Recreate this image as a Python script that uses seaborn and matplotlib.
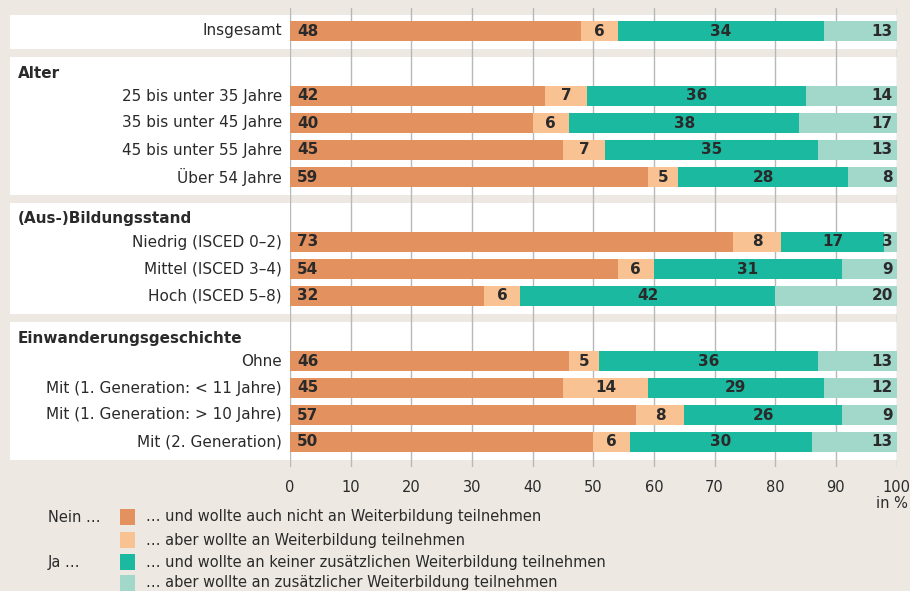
import numpy as np
import pandas as pd
import matplotlib
matplotlib.use("Agg")
import matplotlib.pyplot as plt
import seaborn as sns
from matplotlib.patches import Rectangle
from matplotlib.transforms import blended_transform_factory

# ---------------- data ----------------
group_titles = [None, "Alter", "(Aus-)Bildungsstand", "Einwanderungsgeschichte"]
group_items = [
    ["Insgesamt"],
    ["25 bis unter 35 Jahre", "35 bis unter 45 Jahre", "45 bis unter 55 Jahre", "Über 54 Jahre"],
    ["Niedrig (ISCED 0–2)", "Mittel (ISCED 3–4)", "Hoch (ISCED 5–8)"],
    ["Ohne", "Mit (1. Generation: < 11 Jahre)", "Mit (1. Generation: > 10 Jahre)", "Mit (2. Generation)"],
]
nein_nicht = [48, 42, 40, 45, 59, 73, 54, 32, 46, 45, 57, 50]
nein_aber = [6, 7, 6, 7, 5, 8, 6, 6, 5, 14, 8, 6]
ja_keine = [34, 36, 38, 35, 28, 17, 31, 42, 36, 29, 26, 30]
ja_aber = [13, 14, 17, 13, 8, 3, 9, 20, 13, 12, 9, 13]
total_share = 100

series_labels = [
    "… und wollte auch nicht an Weiterbildung teilnehmen",
    "… aber wollte an Weiterbildung teilnehmen",
    "… und wollte an keiner zusätzlichen Weiterbildung teilnehmen",
    "… aber wollte an zusätzlicher Weiterbildung teilnehmen",
]
legend_groups = ["Nein …", None, "Ja …", None]
x_ticks = [0, 10, 20, 30, 40, 50, 60, 70, 80, 90, 100]

# ---------------- style ----------------
W, H = 910, 591
BG = "#ede9e2"
COLS = ["#e3915f", "#f9c292", "#1ab9a0", "#a2d8c9"]
TXT = "#2a2a2a"

sns.set_theme(style="white")
plt.rcParams["font.family"] = ["DejaVu Sans"]

fig = plt.figure(figsize=(W / 100, H / 100), dpi=100, facecolor=BG)

ax_top, ax_bot = 8, 467          # pixel extents of the plotting axes
x0_px, x100_px = 290, 896.5
ax = fig.add_axes([x0_px / W, 1 - ax_bot / H, (x100_px - x0_px) / W, (ax_bot - ax_top) / H])
ax.patch.set_visible(False)

# ---------------- layout (pixel-like y units) ----------------
step, gap, pad_nohead, head_off, head_to_bar, pad_bot = 27, 8.5, 16, 16, 23, 17.5
y = 15.0
ypos, panels, headers = [], [], []
for title, items in zip(group_titles, group_items):
    top = y
    if title is None:
        yb = top + pad_nohead
    else:
        headers.append((title, top + head_off))
        yb = top + head_off + head_to_bar
    for i, _ in enumerate(items):
        ypos.append(yb + i * step)
    bottom = ypos[-1] + pad_bot
    panels.append((top, bottom))
    y = bottom + gap
labels = [it for items in group_items for it in items]
ypos = np.array(ypos)

trans_fx = blended_transform_factory(fig.transFigure, ax.transData)
for top, bottom in panels:
    r = Rectangle((10 / W, top), (897 - 10) / W, bottom - top, transform=trans_fx,
                  facecolor="white", edgecolor="none", zorder=-1)
    fig.add_artist(r)

# ---------------- bars (stacked via cumulative layers) ----------------
c1 = np.array(nein_nicht, float)
c2 = c1 + np.array(nein_aber)
c3 = c2 + np.array(ja_keine)
c4 = np.full(len(c1), float(total_share))
df = pd.DataFrame({"y": ypos, "c1": c1, "c2": c2, "c3": c3, "c4": c4})
for col, color in zip(["c4", "c3", "c2", "c1"], COLS[::-1]):
    sns.barplot(data=df, x=col, y="y", orient="h", native_scale=True, width=20 / step,
                color=color, saturation=1, errorbar=None, linewidth=0, ax=ax)

ax.set_xlim(0, 100)
ax.set_ylim(ax_bot, ax_top)
ax.set_xticks(x_ticks)
ax.set_xticklabels([str(t) for t in x_ticks], fontsize=10.5, color=TXT)
ax.set_yticks([])
ax.set_xlabel("")
ax.set_ylabel("")
for s in ax.spines.values():
    s.set_visible(False)
ax.grid(axis="x", color="#b8b8b8", linewidth=1)
ax.grid(axis="y", visible=False)
ax.set_axisbelow(True)
ax.tick_params(axis="x", length=0, pad=9)

# value labels
fs = 11
for i, yy in enumerate(ypos):
    ax.text(1.2, yy, str(nein_nicht[i]), ha="left", va="center", fontsize=fs,
            fontweight="bold", color=TXT)
    ax.text((c1[i] + c2[i]) / 2, yy, str(nein_aber[i]), ha="center", va="center",
            fontsize=fs, fontweight="bold", color=TXT)
    ax.text((c2[i] + c3[i]) / 2, yy, str(ja_keine[i]), ha="center", va="center",
            fontsize=fs, fontweight="bold", color=TXT)
    ax.text(99.4, yy, str(ja_aber[i]), ha="right", va="center", fontsize=fs,
            fontweight="bold", color=TXT)

# category labels and group headers
for lab, yy in zip(labels, ypos):
    ax.text(282 / W, yy, lab, transform=trans_fx, ha="right", va="center",
            fontsize=11, color=TXT)
for title, yy in headers:
    ax.text(18 / W, yy, title, transform=trans_fx, ha="left", va="center",
            fontsize=11, fontweight="bold", color=TXT)

# unit
fig.text(908 / W, 1 - 503 / H, "in %", ha="right", va="center", fontsize=10.5, color=TXT)

# legend
leg_y = [517, 540, 562, 583]
for grp, lab, col, yy in zip(legend_groups, series_labels, COLS, leg_y):
    if grp:
        fig.text(48 / W, 1 - yy / H, grp, ha="left", va="center", fontsize=10.5, color=TXT)
    fig.add_artist(Rectangle((120 / W, 1 - (yy + 8) / H), 15 / W, 16 / H,
                             transform=fig.transFigure, facecolor=col, edgecolor="none"))
    fig.text(146 / W, 1 - yy / H, lab, ha="left", va="center", fontsize=10.5, color=TXT)

fig.savefig("out.png", dpi=100, facecolor=BG)
